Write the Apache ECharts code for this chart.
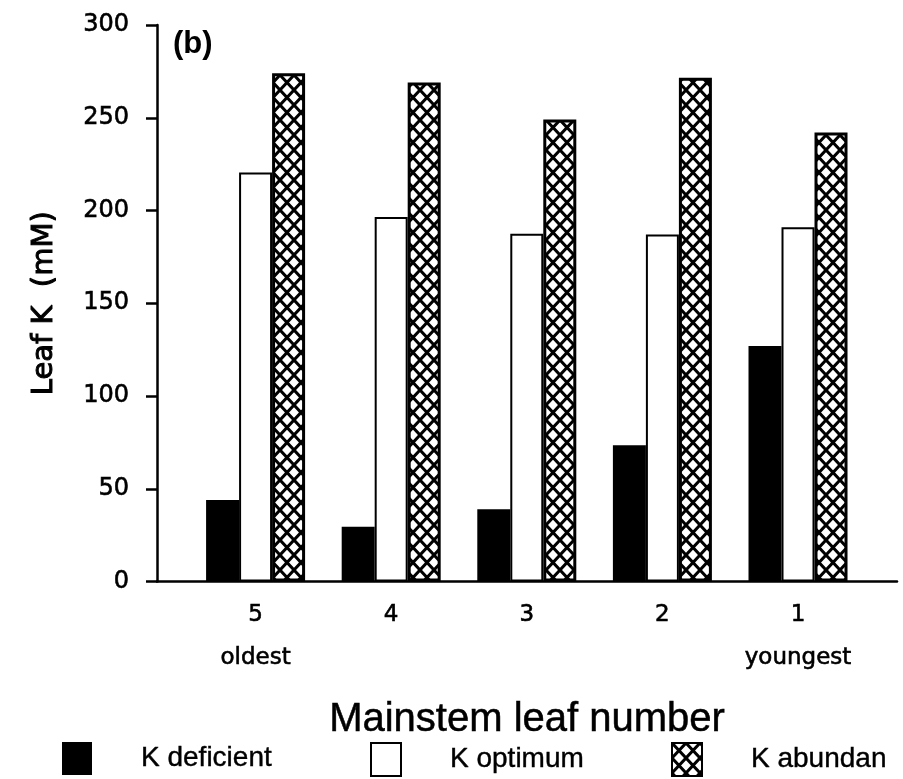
<!DOCTYPE html>
<html>
<head>
<meta charset="utf-8">
<script src="https://cdn.jsdelivr.net/npm/echarts@6/dist/echarts.min.js"></script>
<style>
html,body{margin:0;padding:0;background:#fff;}
#chart{width:903px;height:779px;}
</style>
</head>
<body>
<div id="chart"></div>
<script>
// ---- data ----
const leafNumbers = [5, 4, 3, 2, 1];
const leafNotes = ['oldest', '', '', '', 'youngest'];
const seriesNames = ['K deficient', 'K optimum', 'K abundan'];
const kDeficient = [44, 29.5, 39, 73.5, 127];
const kOptimum = [220.5, 196.5, 187.5, 187, 191];
const kAbundant = [274, 269, 249, 271.5, 242];
const yTicks = [0, 50, 100, 150, 200, 250, 300];

// ---- crosshatch pattern ----
function makeHatch() {
  const w = 14, h = 15;
  const c = document.createElement('canvas');
  c.width = w; c.height = h;
  const ctx = c.getContext('2d');
  ctx.fillStyle = '#fff';
  ctx.fillRect(0, 0, w, h);
  ctx.strokeStyle = '#000';
  ctx.lineWidth = 3;
  for (let dx = -1; dx <= 1; dx++) {
    for (let dy = -1; dy <= 1; dy++) {
      const ox = dx * w, oy = dy * h;
      ctx.beginPath();
      ctx.moveTo(ox, oy); ctx.lineTo(ox + w, oy + h);
      ctx.moveTo(ox + w, oy); ctx.lineTo(ox, oy + h);
      ctx.stroke();
    }
  }
  return c;
}
const hatch = makeHatch();

const pairs = (vals) => leafNumbers.map((n, i) => [n, vals[i]]);
const heavy = {textBorderColor: '#000', textBorderWidth: 0.6};

const chart = echarts.init(document.getElementById('chart'), null, {renderer: 'canvas'});
const legendCommon = {
  orient: 'horizontal',
  itemWidth: 30,
  itemHeight: 33,
  top: 742,
  padding: 0,
  icon: 'rect',
  selectedMode: false,
  textStyle: Object.assign({
    fontFamily: '"Liberation Sans Narrow", "Liberation Sans", sans-serif',
    fontSize: 28,
    color: '#000',
    padding: [0, 0, 0, 44]
  }, {textBorderColor: '#000', textBorderWidth: 0.4})
};
const option = {
  backgroundColor: '#fff',
  animation: false,
  title: {
    text: '(b)',
    left: 168,
    top: 24,
    textStyle: {
      fontFamily: '"Liberation Sans", sans-serif',
      fontWeight: 'bold',
      fontSize: 31,
      color: '#000'
    }
  },
  legend: [
    Object.assign({}, legendCommon, {data: [seriesNames[0]], left: 62}),
    Object.assign({}, legendCommon, {data: [seriesNames[1]], left: 370}),
    Object.assign({}, legendCommon, {data: [seriesNames[2]], left: 671})
  ],
  grid: {left: 157, right: 6, top: 25, bottom: 197.5, containLabel: false},
  xAxis: {
    type: 'value',
    inverse: true,
    min: 0.27,
    max: 5.727,
    splitLine: {show: false},
    axisLine: {show: true, onZero: false, lineStyle: {color: '#000', width: 2.5}},
    axisTick: {show: false},
    axisLabel: {
      customValues: leafNumbers,
      margin: 12,
      verticalAlign: 'top',
      formatter: function (v) {
        const i = leafNumbers.indexOf(v);
        if (i < 0) return '';
        return leafNotes[i] ? '{n|' + v + '}\n{t|' + leafNotes[i] + '}' : '{n|' + v + '}';
      },
      rich: {
        n: Object.assign({fontFamily: '"DejaVu Sans", sans-serif', fontSize: 23, lineHeight: 43, color: '#000'}, heavy),
        t: Object.assign({fontFamily: '"DejaVu Sans", sans-serif', fontSize: 23, lineHeight: 43, color: '#000'}, heavy)
      }
    },
    name: 'Mainstem leaf number',
    nameLocation: 'middle',
    nameGap: 118,
    nameTextStyle: Object.assign({
      fontFamily: '"Liberation Sans Narrow", "Liberation Sans", sans-serif',
      fontSize: 40,
      color: '#000',
      verticalAlign: 'top'
    }, {textBorderColor: '#000', textBorderWidth: 0.5})
  },
  yAxis: {
    type: 'value',
    min: 0,
    max: 300,
    interval: 50,
    splitLine: {show: false},
    axisLine: {show: true, lineStyle: {color: '#000', width: 2.5}},
    axisTick: {show: true, length: 11, lineStyle: {color: '#000', width: 2.5}},
    axisLabel: Object.assign({
      margin: 28,
      fontFamily: '"DejaVu Sans", sans-serif',
      fontSize: 24,
      color: '#000',
      formatter: function (v) { return yTicks.indexOf(v) >= 0 ? String(v) : ''; }
    }, heavy),
    name: 'Leaf K  (mM)',
    nameLocation: 'middle',
    nameGap: 98,
    nameTextStyle: Object.assign({
      fontFamily: '"DejaVu Sans", sans-serif',
      fontSize: 29,
      color: '#000'
    }, {textBorderColor: '#000', textBorderWidth: 1})
  },
  series: [
    {
      name: seriesNames[0], type: 'bar', data: pairs(kDeficient),
      barWidth: 33, barGap: '0%',
      itemStyle: {color: '#000', borderColor: '#000', borderWidth: 0}
    },
    {
      name: seriesNames[1], type: 'bar', data: pairs(kOptimum),
      barWidth: 33, barGap: '0%',
      itemStyle: {color: '#fff', borderColor: '#000', borderWidth: 2}
    },
    {
      name: seriesNames[2], type: 'bar', data: pairs(kAbundant),
      barWidth: 33, barGap: '0%',
      itemStyle: {color: {image: hatch, repeat: 'repeat'}, borderColor: '#000', borderWidth: 3}
    }
  ]
};
chart.setOption(option);
</script>
</body>
</html>
